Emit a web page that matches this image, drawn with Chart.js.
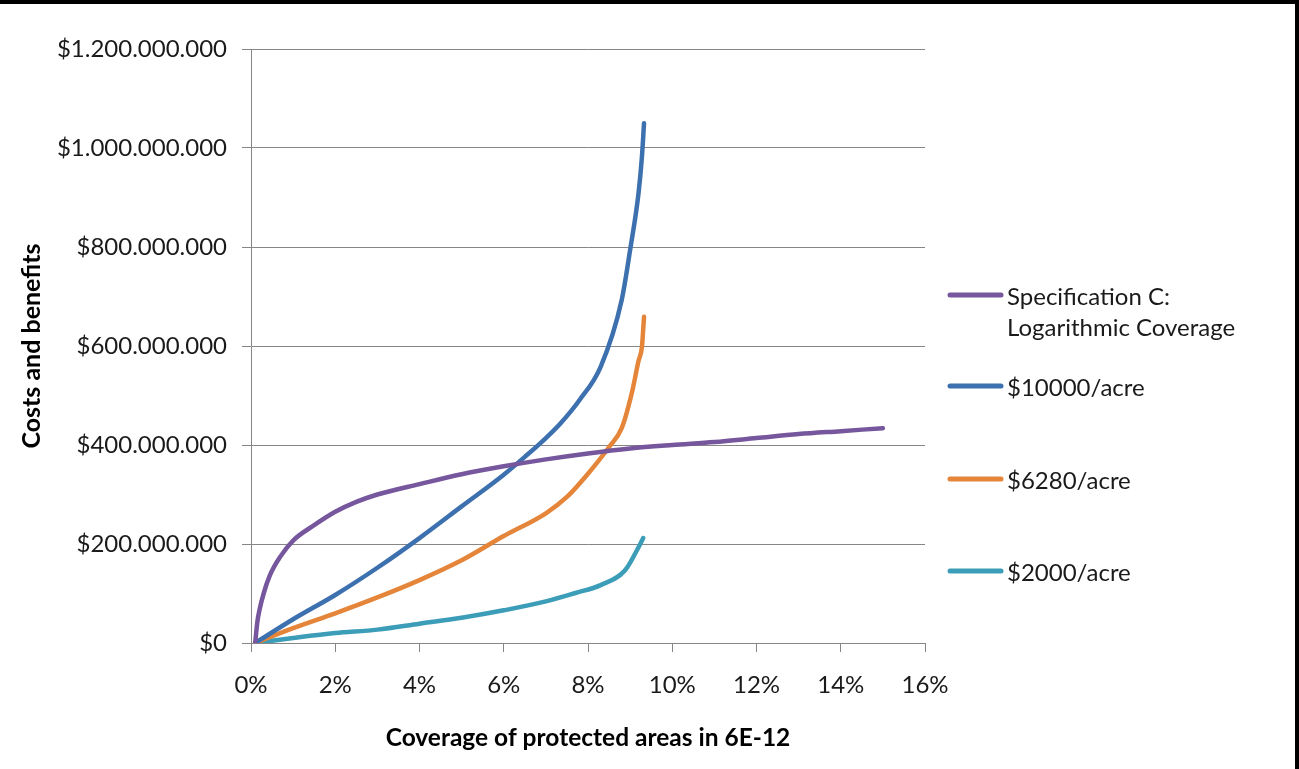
<!DOCTYPE html>
<html>
<head>
<meta charset="utf-8">
<script src="https://cdn.jsdelivr.net/npm/chart.js@4.4.1/dist/chart.umd.min.js"></script>
<style>
    body { margin: 0; background: #fff; }
    #wrap { position: relative; width: 1299px; height: 769px; overflow: hidden; }
    #myChart { position: absolute; left: 0; top: 0; }
    .edge { position: absolute; background: #000; }
</style>
</head>
<body>
<div id="wrap">
    <canvas id="myChart" width="1299" height="769"></canvas>
    <div class="edge" style="left:0;top:0;width:1299px;height:4px;"></div>
    <div class="edge" style="left:1295px;top:0;width:4px;height:769px;"></div>
</div>
<script>
// Data (x in %, y in millions of $)
var seriesNames = ["Specification C: Logarithmic Coverage", "$10000/acre", "$6280/acre", "$2000/acre"];

var specX = [0.1, 0.15, 0.2, 0.3, 0.45, 0.7, 1.0, 1.5, 2, 2.5, 3, 4, 5, 6, 7, 8, 9, 10, 11, 12, 13, 14, 15];
var specY = [0, 42, 66, 100, 137, 175, 207, 238, 265, 285, 300, 321, 341, 357, 371, 383, 393, 400, 406, 414, 422, 428, 434];

var acre10000X = [0.1, 1, 2, 3, 4, 5, 6, 6.5, 7, 7.35, 7.8, 8.3, 8.8, 9.0, 9.2, 9.28, 9.33];
var acre10000Y = [0, 48, 97, 152, 212, 276, 340, 376, 414, 444, 491, 558, 693, 794, 909, 982, 1050];

var acre6280X = [0.1, 1, 2, 3, 4, 5, 6, 7, 7.5, 8, 8.5, 8.8, 9.04, 9.2, 9.28, 9.33];
var acre6280Y = [0, 30, 60, 92, 127, 167, 216, 262, 295, 342, 396, 434, 505, 570, 598, 659];

var acre2000X = [0.1, 1, 2, 3, 4, 5, 6, 7, 7.7, 8.3, 8.88, 9.19, 9.31];
var acre2000Y = [0, 10, 20, 27, 39, 51, 66, 84, 101, 117, 147, 192, 212];

var colors = ["#76569c", "#3d70ae", "#e4853a", "#3b9db7"];

function toPoints(xs, ys) {
    return xs.map((x, i) => ({ x: x, y: ys[i] }));
}

function dollars(v) {
    var n = Math.round(v * 1000000).toString();
    return "$" + n.replace(/\B(?=(\d{3})+(?!\d))/g, ".");
}

var FONT = "Lato";

// Legend on the right, drawn by hand so the first entry can wrap
var sideLegend = {
    id: "sideLegend",
    afterDraw(chart) {
        var ctx = chart.ctx;
        var rows = [[295, ["Specification C:", "Logarithmic Coverage"]],
                    [386, ["$10000/acre"]],
                    [479, ["$6280/acre"]],
                    [571, ["$2000/acre"]]];
        ctx.save();
        ctx.font = "24px " + FONT;
        ctx.textBaseline = "middle";
        ctx.fillStyle = "#1a1a1a";
        rows.forEach((r, i) => {
            var ds = chart.data.datasets[i];
            ctx.strokeStyle = ds.borderColor;
            ctx.lineWidth = 5;
            ctx.lineCap = "round";
            ctx.beginPath();
            ctx.moveTo(950, r[0]);
            ctx.lineTo(1001, r[0]);
            ctx.stroke();
            r[1].forEach((t, j) => ctx.fillText(t, 1007, r[0] + 2 + j * 31));
        });
        ctx.restore();
    }
};

var datasets = [
    { label: seriesNames[0], data: toPoints(specX, specY) },
    { label: seriesNames[1], data: toPoints(acre10000X, acre10000Y) },
    { label: seriesNames[2], data: toPoints(acre6280X, acre6280Y) },
    { label: seriesNames[3], data: toPoints(acre2000X, acre2000Y) }
].map((d, i) => Object.assign(d, {
    borderColor: colors[i],
    backgroundColor: colors[i],
    borderWidth: 4.5,
    borderCapStyle: "round",
    borderJoinStyle: "round",
    pointRadius: 0,
    cubicInterpolationMode: "monotone",
    fill: false
}));

var ctx = document.getElementById("myChart").getContext("2d");
var chart = new Chart(ctx, {
    type: "line",
    data: { datasets: datasets },
    plugins: [sideLegend],
    options: {
        responsive: false,
        animation: false,
        devicePixelRatio: 1,
        layout: { padding: { left: 0, right: 374, top: 49, bottom: 0 } },
        plugins: { legend: { display: false }, tooltip: { enabled: false } },
        scales: {
            x: {
                type: "linear",
                min: 0,
                max: 16,
                ticks: {
                    stepSize: 2,
                    padding: 19,
                    color: "#1a1a1a",
                    font: { family: FONT, size: 24 },
                    callback: v => v + "%"
                },
                grid: { drawOnChartArea: false, drawTicks: true, tickLength: 9, color: "#868686", lineWidth: 1 },
                border: { display: true, color: "#868686", width: 1 },
                title: {
                    display: true,
                    text: "Coverage of protected areas in 6E-12",
                    color: "#000",
                    font: { family: FONT, size: 24.5, weight: "bold" },
                    padding: { top: 0, bottom: 16 }
                },
                afterFit(scale) { scale.height = 126; }
            },
            y: {
                min: 0,
                max: 1200,
                ticks: {
                    stepSize: 200,
                    padding: 15,
                    color: "#1a1a1a",
                    font: { family: FONT, size: 24 },
                    callback: v => dollars(v)
                },
                grid: { color: "#868686", lineWidth: 1, tickLength: 9 },
                border: { display: true, color: "#868686", width: 1 },
                title: {
                    display: true,
                    text: "Costs and benefits",
                    color: "#000",
                    font: { family: FONT, size: 25, weight: "bold" },
                    padding: { top: 17, bottom: 0 }
                },
                afterFit(scale) { scale.width = 251; }
            }
        }
    }
});
</script>
</body>
</html>
